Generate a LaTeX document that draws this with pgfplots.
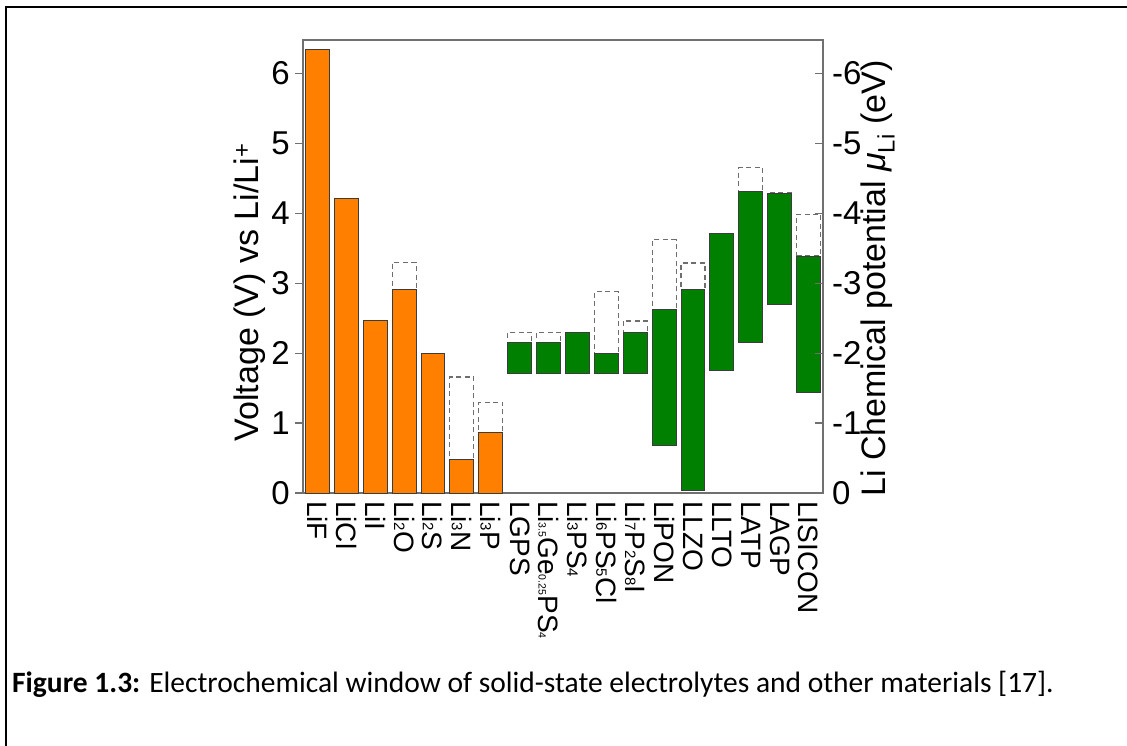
\documentclass[border=0pt]{standalone}
\usepackage{fontspec}
\setmainfont{Liberation Sans}
\newfontfamily\carlito{Carlito}
\usepackage{pgfplots}
\pgfplotsset{compat=1.18}
\definecolor{barorange}{HTML}{FF8000}
\definecolor{bargreen}{HTML}{008000}
\definecolor{baredge}{HTML}{3C3C3C}
\definecolor{axisgray}{HTML}{707070}
\definecolor{dashgray}{HTML}{6E6E6E}
\newcommand{\sbs}[1]{{\fontsize{15}{15}\selectfont #1}}
\newcommand{\ssb}[1]{{\fontsize{10.5}{11}\selectfont #1}}
\begin{document}
\begin{tikzpicture}
\path[use as bounding box] (0,0) rectangle (1127pt,-746pt);
\draw[line width=2.5pt] (6pt,-746pt) -- (6pt,-7pt) -- (1127pt,-7pt);
\begin{axis}[
  at={(303pt,-493pt)}, anchor=south west,
  width=520pt, height=453pt, scale only axis,
  xmin=-0.5, xmax=17.5, ymin=0, ymax=6.48,
  axis line style={draw=axisgray, line width=1.3pt},
  /pgf/number format/assume math mode=true,
  ytick={0,1,2,3,4,5,6},
  ytick pos=left,
  xtick={0,...,17},
  xtick pos=bottom,
  xticklabels={LiF,LiCl,LiI,Li\sbs{2}O,Li\sbs{2}S,Li\sbs{3}N,Li\sbs{3}P,LGPS,Li\ssb{3.5}Ge\ssb{0.25}PS\ssb{4},Li\sbs{3}PS\sbs{4},Li\sbs{6}PS\sbs{5}Cl,Li\sbs{7}P\sbs{2}S\sbs{8}I,LiPON,LLZO,LLTO,LATP,LAGP,LISICON},
  x tick label style={rotate=-90, anchor=west, inner sep=0pt, font=\fontsize{28}{30}\selectfont},
  major x tick style={draw=none},
  major tick length=8pt,
  tick align=outside,
  y tick style={draw=axisgray, line width=1.3pt},
  y tick label style={font=\fontsize{33}{36}\selectfont, inner sep=0pt, xshift=-5pt},
  ylabel={Voltage (V) vs Li/Li\textsuperscript{+}},
  ylabel style={font=\fontsize{34}{38}\selectfont, at={(rel axis cs:0,0.4426)}, anchor=center, yshift=53pt},
]
% dashed extensions
\addplot[draw=dashgray, line width=1.1pt, dash pattern=on 5pt off 3.5pt, fill=none] coordinates {(2.585,2.91) (3.415,2.91) (3.415,3.30) (2.585,3.30)} -- cycle;
\addplot[draw=dashgray, line width=1.1pt, dash pattern=on 5pt off 3.5pt, fill=none] coordinates {(4.585,0.48) (5.415,0.48) (5.415,1.66) (4.585,1.66)} -- cycle;
\addplot[draw=dashgray, line width=1.1pt, dash pattern=on 5pt off 3.5pt, fill=none] coordinates {(5.585,0.86) (6.415,0.86) (6.415,1.30) (5.585,1.30)} -- cycle;
\addplot[draw=dashgray, line width=1.1pt, dash pattern=on 5pt off 3.5pt, fill=none] coordinates {(6.585,2.15) (7.415,2.15) (7.415,2.30) (6.585,2.30)} -- cycle;
\addplot[draw=dashgray, line width=1.1pt, dash pattern=on 5pt off 3.5pt, fill=none] coordinates {(7.585,2.15) (8.415,2.15) (8.415,2.30) (7.585,2.30)} -- cycle;
\addplot[draw=dashgray, line width=1.1pt, dash pattern=on 5pt off 3.5pt, fill=none] coordinates {(9.585,2.00) (10.415,2.00) (10.415,2.88) (9.585,2.88)} -- cycle;
\addplot[draw=dashgray, line width=1.1pt, dash pattern=on 5pt off 3.5pt, fill=none] coordinates {(10.585,2.30) (11.415,2.30) (11.415,2.46) (10.585,2.46)} -- cycle;
\addplot[draw=dashgray, line width=1.1pt, dash pattern=on 5pt off 3.5pt, fill=none] coordinates {(11.585,2.62) (12.415,2.62) (12.415,3.62) (11.585,3.62)} -- cycle;
\addplot[draw=dashgray, line width=1.1pt, dash pattern=on 5pt off 3.5pt, fill=none] coordinates {(12.585,2.91) (13.415,2.91) (13.415,3.29) (12.585,3.29)} -- cycle;
\addplot[draw=dashgray, line width=1.1pt, dash pattern=on 5pt off 3.5pt, fill=none] coordinates {(14.585,4.31) (15.415,4.31) (15.415,4.65) (14.585,4.65)} -- cycle;
\addplot[draw=dashgray, line width=1.1pt, dash pattern=on 5pt off 3.5pt, fill=none] coordinates {(15.585,4.28) (16.415,4.28) (16.415,4.30) (15.585,4.30)} -- cycle;
\addplot[draw=dashgray, line width=1.1pt, dash pattern=on 5pt off 3.5pt, fill=none] coordinates {(16.585,3.39) (17.415,3.39) (17.415,3.99) (16.585,3.99)} -- cycle;
% orange bars (from 0)
\addplot[ybar, bar width=0.83, bar shift=0pt, fill=barorange, draw=baredge, line width=1pt] coordinates {(0,6.35) (1,4.21) (2,2.47) (3,2.91) (4,2.00) (5,0.48) (6,0.86)};
% green floating bars
\addplot[fill=bargreen, draw=baredge, line width=1pt] coordinates {(6.585,1.71) (7.415,1.71) (7.415,2.15) (6.585,2.15)} -- cycle;
\addplot[fill=bargreen, draw=baredge, line width=1pt] coordinates {(7.585,1.71) (8.415,1.71) (8.415,2.15) (7.585,2.15)} -- cycle;
\addplot[fill=bargreen, draw=baredge, line width=1pt] coordinates {(8.585,1.71) (9.415,1.71) (9.415,2.30) (8.585,2.30)} -- cycle;
\addplot[fill=bargreen, draw=baredge, line width=1pt] coordinates {(9.585,1.71) (10.415,1.71) (10.415,2.00) (9.585,2.00)} -- cycle;
\addplot[fill=bargreen, draw=baredge, line width=1pt] coordinates {(10.585,1.71) (11.415,1.71) (11.415,2.30) (10.585,2.30)} -- cycle;
\addplot[fill=bargreen, draw=baredge, line width=1pt] coordinates {(11.585,0.68) (12.415,0.68) (12.415,2.62) (11.585,2.62)} -- cycle;
\addplot[fill=bargreen, draw=baredge, line width=1pt] coordinates {(12.585,0.04) (13.415,0.04) (13.415,2.91) (12.585,2.91)} -- cycle;
\addplot[fill=bargreen, draw=baredge, line width=1pt] coordinates {(13.585,1.75) (14.415,1.75) (14.415,3.71) (13.585,3.71)} -- cycle;
\addplot[fill=bargreen, draw=baredge, line width=1pt] coordinates {(14.585,2.16) (15.415,2.16) (15.415,4.31) (14.585,4.31)} -- cycle;
\addplot[fill=bargreen, draw=baredge, line width=1pt] coordinates {(15.585,2.70) (16.415,2.70) (16.415,4.28) (15.585,4.28)} -- cycle;
\addplot[fill=bargreen, draw=baredge, line width=1pt] coordinates {(16.585,1.44) (17.415,1.44) (17.415,3.39) (16.585,3.39)} -- cycle;
\end{axis}
\begin{axis}[
  at={(303pt,-493pt)}, anchor=south west,
  width=520pt, height=453pt, scale only axis,
  xmin=-0.5, xmax=17.5, ymin=0, ymax=6.48,
  axis x line=none,
  axis y line*=right,
  axis line style={draw=axisgray, line width=1.3pt},
  ytick={0,1,2,3,4,5,6},
  yticklabels={0,-1,-2,-3,-4,-5,-6},
  major tick length=8pt,
  tick align=inside,
  y tick style={draw=axisgray, line width=1.3pt},
  y tick label style={font=\fontsize{33}{36}\selectfont, inner sep=0pt, anchor=west, xshift=9pt},
  ylabel={Li Chemical potential \textit{μ}\textsubscript{Li} (eV)},
  ylabel style={font=\fontsize{34}{38}\selectfont, at={(rel axis cs:1,0.4735)}, anchor=center, yshift=-55pt},
]
\end{axis}
\node[anchor=base west, font=\carlito\fontsize{29.5}{32}\selectfont, inner sep=0pt] at (12pt,-692pt) {\textbf{Figure 1.3:} Electrochemical window of solid-state electrolytes and other materials [17].};
\end{tikzpicture}
\end{document}
